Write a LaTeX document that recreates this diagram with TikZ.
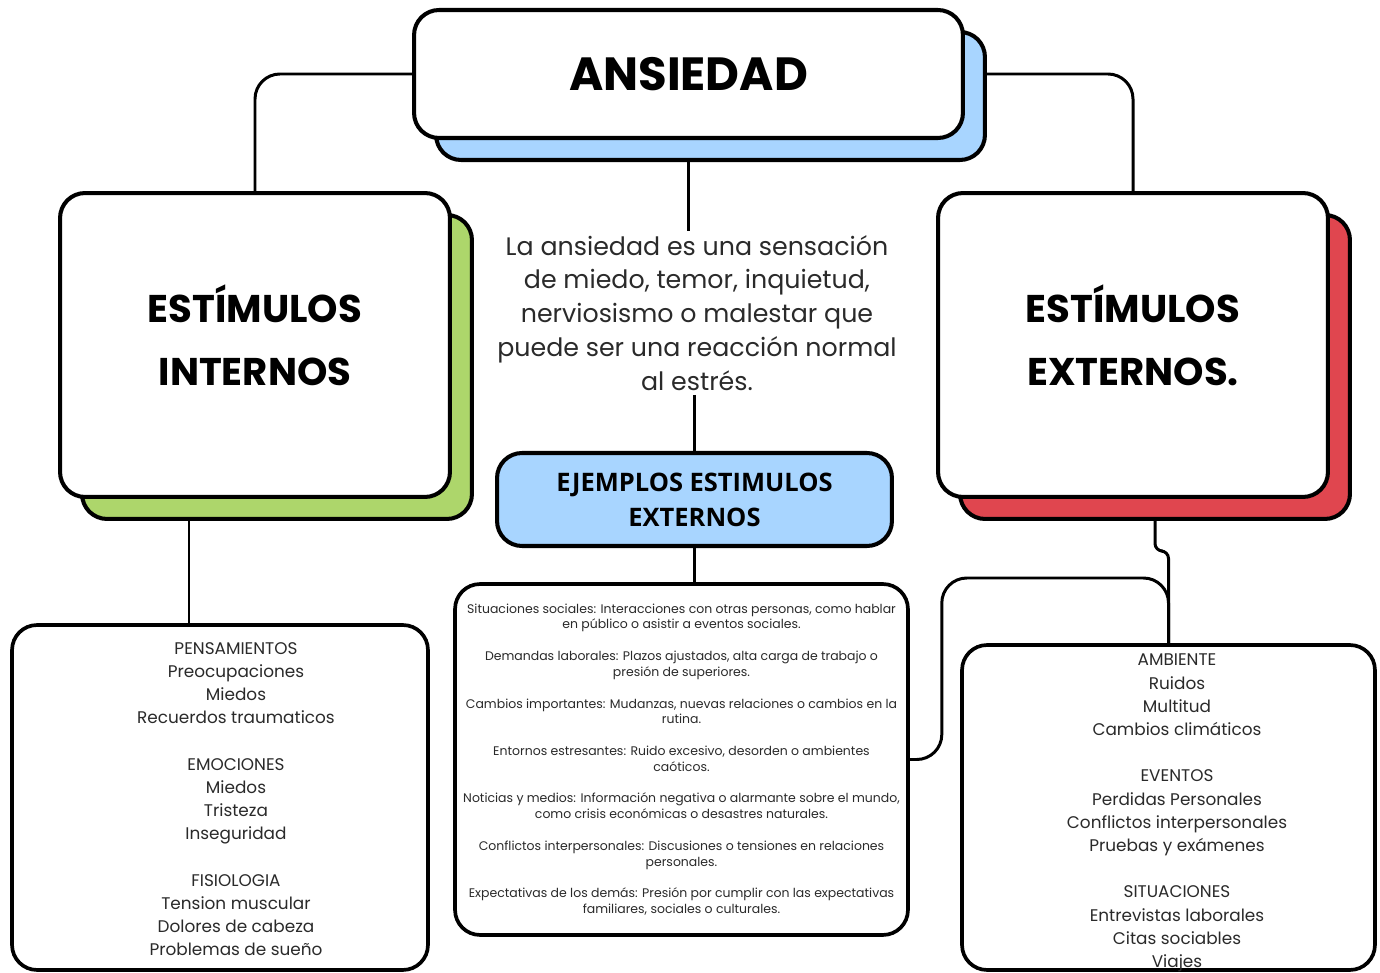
\documentclass[tikz,border=0pt]{standalone}
\usepackage{fontspec}
\setmainfont{Poppins}
\newfontfamily\bannerfont{Open Sans}
\usepackage{tikz}
\usetikzlibrary{positioning}
\definecolor{skyblue}{HTML}{A8D5FF}
\definecolor{leafgreen}{HTML}{ADD66B}
\definecolor{alertred}{HTML}{E0464F}
\definecolor{inkgray}{HTML}{2A2A2A}
\tikzstyle{card} = [rectangle, rounded corners=0.5cm, draw=black, line width=2.3pt, fill=white, inner sep=0pt, align=center]
\tikzstyle{listcard} = [card, line width=2.1pt]
\tikzstyle{listtext} = [align=center, text=inkgray, inner sep=0pt]
\tikzstyle{link} = [line width=1.7pt, rounded corners=0.5cm]
\newcommand{\titlefont}{\bfseries\fontsize{22}{36}\selectfont}
\newcommand{\listfont}{\fontsize{9.6}{13.2}\selectfont}
\newcommand{\tinyfont}{\fontsize{7.1}{9}\selectfont}

\begin{document}
\begin{tikzpicture}[x=0.02cm, y=-0.02cm]
    \useasboundingbox (0,0) rectangle (1380,973);
    % title
    \node (ansSh) [card, fill=skyblue, minimum width=10.98cm, minimum height=2.56cm] at (710.5,96) {};
    \node (ans) [card, minimum width=10.98cm, minimum height=2.56cm, font=\bfseries\fontsize{26.5}{36}\selectfont] at (688.5,74) {ANSIEDAD};
    % the two stimulus cards
    \node (intSh) [card, fill=leafgreen, minimum width=7.8cm, minimum height=6.08cm] at (277,367) {};
    \node (intl) [card, minimum width=7.8cm, minimum height=6.08cm, text depth=0.4cm, font=\titlefont] at (255,345) {ESTÍMULOS\\INTERNOS};
    \node (extSh) [card, fill=alertred, minimum width=7.8cm, minimum height=6.08cm] at (1155,367) {};
    \node (extl) [card, minimum width=7.8cm, minimum height=6.08cm, text depth=0.4cm, font=\titlefont] at (1133,345) {ESTÍMULOS\\EXTERNOS.};
    % definition
    \node (desc) [listtext, inner sep=2pt, font=\fontsize{14.4}{19.3}\selectfont] at (697,313)
        {La ansiedad es una sensación\\de miedo, temor, inquietud,\\nerviosismo o malestar que\\puede ser una reacción normal\\al estrés.};
    \node (ejem) [card, fill=skyblue, minimum width=7.9cm, minimum height=1.86cm, font=\bannerfont\bfseries\fontsize{14.5}{20}\selectfont] at (694.5,499.5)
        {EJEMPLOS ESTIMULOS\\EXTERNOS};
    % lists
    \node (ejlist) [listcard, text=inkgray, minimum width=9.06cm, minimum height=7.02cm, font=\tinyfont] at (681.5,759.5)
        {Situaciones sociales: Interacciones con otras personas, como hablar\\en público o asistir a eventos sociales.\\[9pt]
         Demandas laborales: Plazos ajustados, alta carga de trabajo o\\presión de superiores.\\[9pt]
         Cambios importantes: Mudanzas, nuevas relaciones o cambios en la\\rutina.\\[9pt]
         Entornos estresantes: Ruido excesivo, desorden o ambientes\\caóticos.\\[9pt]
         Noticias y medios: Información negativa o alarmante sobre el mundo,\\como crisis económicas o desastres naturales.\\[9pt]
         Conflictos interpersonales: Discusiones o tensiones en relaciones\\personales.\\[9pt]
         Expectativas de los demás: Presión por cumplir con las expectativas\\familiares, sociales o culturales.};
    \node (pens) [listcard, minimum width=8.32cm, minimum height=6.9cm] at (220,797.5) {};
    \node (pensTxt) [listtext, font=\listfont] at (236,799)
        {PENSAMIENTOS\\Preocupaciones\\Miedos\\Recuerdos traumaticos\\[13.2pt]
         EMOCIONES\\Miedos\\Tristeza\\Inseguridad\\[13.2pt]
         FISIOLOGIA\\Tension muscular\\Dolores de cabeza\\Problemas de sueño};
    \node (amb) [listcard, minimum width=8.26cm, minimum height=6.5cm] at (1168.5,807.5) {};
    \node (ambTxt) [listtext, font=\listfont] at (1177,813)
        {AMBIENTE\\Ruidos\\Multitud\\Cambios climáticos\\[13.2pt]
         EVENTOS\\Perdidas Personales\\Conflictos interpersonales\\Pruebas y exámenes\\[13.2pt]
         SITUACIONES\\Entrevistas laborales\\Citas sociables\\Viajes};
    % connectors
    \coordinate (jL) at (189,519);
    \draw [link] (ans.west) -| (intl.north);
    \draw [link] (ansSh.east |- ans.east) -| (extl.north);
    \draw [link] (ans.south |- ansSh.south) -- (ans.south |- desc.north);
    \draw [link] (ejem.north |- desc.south) -- (ejem.north);
    \draw [link] (ejem.south) -- (ejem.south |- ejlist.north);
    \draw [link] (jL) -- (jL |- pens.north);
    \draw [link, rounded corners=0.15cm] (extSh.south) -- ++(0,30) -| (amb.north);
    \draw [link] (ejlist.east) -- ++(32,0) |- (amb.north |- 0,578) -- (amb.north);
\end{tikzpicture}
\end{document}
